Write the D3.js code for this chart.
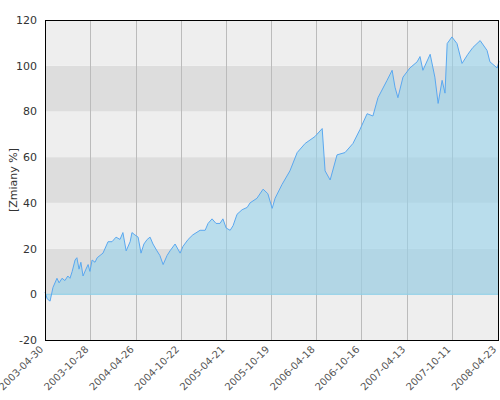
<!DOCTYPE html>
<html><head><meta charset="utf-8">
<script src="https://cdn.jsdelivr.net/npm/d3@7"></script>
<style>body{margin:0;background:#fff}</style>
</head><body><svg id="c" width="500" height="400"></svg>
<script>
// trading day index of each reading
var dni = [0,6,14,22,33,39,47,55,63,69,75,83,88,94,99,105,113,119,124,130,138,144,152,160,174,185,196,207,215,224,235,240,248,257,265,273,282,290,298,309,317,326,337,345,359,373,381,395,408,428,442,450,461,472,483,491,500,511,519,530,544,558,566,
  585,602,615,627,635,654,676,696,718,745,765,773,787,806,828,850,869,889,905,919,944,958,966,974,988,1007,1027,1035,1043,1063,1076,1085,1096,1104,1110,1123,1137,1151,1167,1181,1201,1220,1228,1248,1253];
var zmiany = [1,-2,-3,3,7,5,7,6,8,7,10,15,16,11,14,8,11,13,10,15,14,16,17,18,23,23,25,24,27,19,23,27,26,25,18,22,24,25,22,19,17,13,17,19,22,18,21,24,26,28,28,31,33,31,31,33,29,28,30,35,37,38,40,
  42,46,44,37.6,42,48,54,62,66,69,72.5,54,50,61,62,66,72,79,78,86,93.6,98,90.6,86,95,99,101.7,104,98,105,95,83.5,93.6,88,109.7,112.6,109.7,101,105,108,111,106.7,101.7,99,102];
var dateLabels = ["2003-04-30","2003-10-28","2004-04-26","2004-10-22","2005-04-21","2005-10-19","2006-04-18","2006-10-16","2007-04-13","2007-10-11","2008-04-23"];
var labelDni = [0,125,250,375,500,624,749,873,999,1124,1250];
var yTicks = [-20,0,20,40,60,80,100,120];

var svg = d3.select("#c");
var L = 45, R = 499, T = 20, B = 340;
var x = d3.scaleLinear().domain([0, 1253]).range([L, R]);
var y = d3.scaleLinear().domain([-20, 120]).range([B, T]);

// background bands
svg.selectAll(".band").data(d3.range(-20, 120, 20)).enter().append("rect")
  .attr("x", L).attr("width", R - L)
  .attr("y", function(d){ return y(d + 20); })
  .attr("height", function(d){ return y(d) - y(d + 20); })
  .attr("fill", function(d){ return (d / 20) % 2 === 0 ? "#dddddd" : "#eeeeee"; });

// vertical grid
svg.selectAll(".vg").data(labelDni).enter().append("line")
  .attr("x1", function(d){ return Math.round(x(d)) + 0.5; }).attr("x2", function(d){ return Math.round(x(d)) + 0.5; })
  .attr("y1", T).attr("y2", B).attr("stroke", "#bbbbbb").attr("stroke-width", 1);

var pts = dni.map(function(p, i){ return [p, zmiany[i]]; });
svg.append("path").datum(pts)
  .attr("d", d3.area().x(function(d){ return x(d[0]); }).y0(y(0)).y1(function(d){ return y(d[1]); }))
  .attr("fill", "rgba(150,210,235,0.6)");
svg.append("line").attr("x1", L).attr("x2", R).attr("y1", y(0)).attr("y2", y(0))
  .attr("stroke", "#8ccfe8").attr("stroke-width", 1);
svg.append("path").datum(pts)
  .attr("d", d3.line().x(function(d){ return x(d[0]); }).y(function(d){ return y(d[1]); }))
  .attr("fill", "none").attr("stroke", "#5aa8f0").attr("stroke-width", 1);

// frame
svg.append("rect").attr("x", L + 0.5).attr("y", T + 0.5).attr("width", R - L - 1).attr("height", B - T)
  .attr("fill", "none").attr("stroke", "#000");

// y labels
svg.selectAll(".yl").data(yTicks).enter().append("text")
  .attr("x", L - 8).attr("y", function(d){ return y(d) + 4; })
  .attr("text-anchor", "end").attr("font-family", "DejaVu Sans").attr("font-size", 11)
  .attr("fill", "#333").text(function(d){ return d; });

svg.append("text").attr("transform", "translate(17," + ((T + B) / 2) + ") rotate(-90)")
  .attr("text-anchor", "middle").attr("font-family", "DejaVu Sans").attr("font-size", 11)
  .attr("fill", "#333").text("[Zmiany %]");

// x labels
svg.selectAll(".xl").data(dateLabels).enter().append("text")
  .attr("transform", function(d, i){ return "translate(" + (x(labelDni[i]) - 1) + "," + (B + 10) + ") rotate(-45)"; })
  .attr("text-anchor", "end").attr("font-family", "DejaVu Sans").attr("font-size", 10)
  .attr("fill", "#555").text(function(d){ return d; });
</script></body></html>
